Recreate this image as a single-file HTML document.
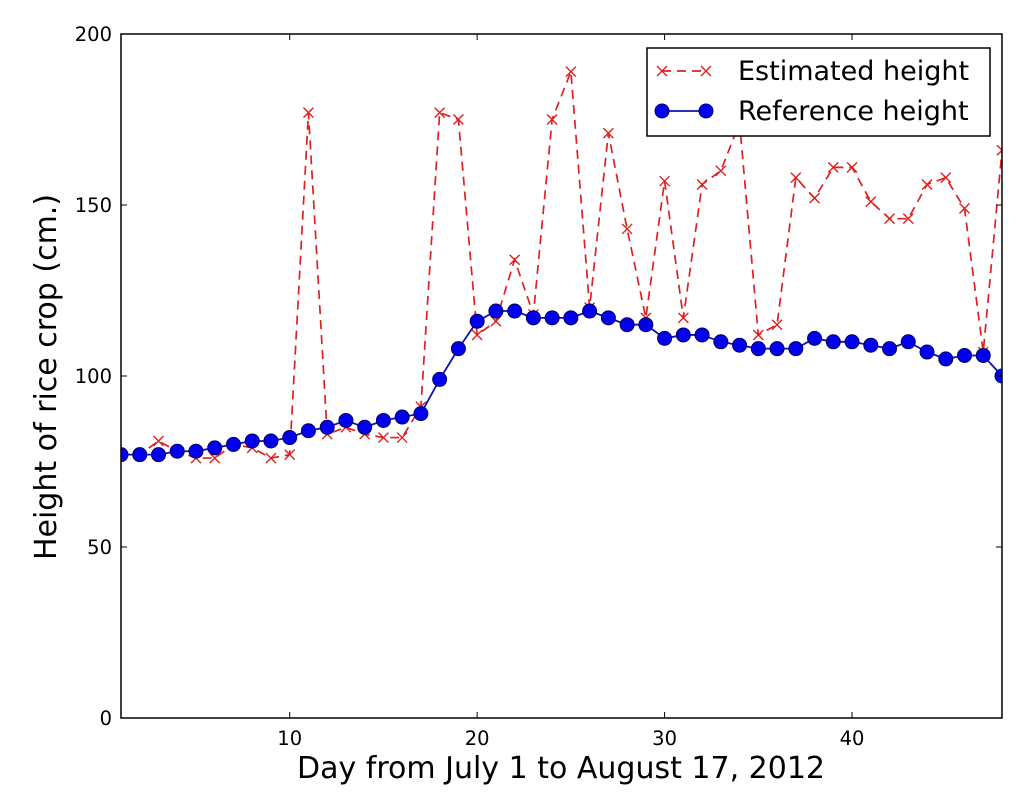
<!DOCTYPE html>
<html><head><meta charset="utf-8"><style>
body{margin:0;background:#fff;}
svg text{font-family:"DejaVu Sans","Liberation Sans",sans-serif;}
</style></head><body>
<svg id="chart" width="1024" height="800">
<g id="grid"></g>
<g id="series"></g>
<rect x="121" y="34" width="881" height="684" fill="none" stroke="#000" stroke-width="1.5"/>
<g id="ticks"></g>
<text x="561" y="778" font-size="30" text-anchor="middle">Day from July 1 to August 17, 2012</text>
<text transform="translate(56,377) rotate(-90)" font-size="30" text-anchor="middle">Height of rice crop (cm.)</text>
<g>
<rect x="647" y="48" width="343" height="88" fill="#fff" stroke="#000" stroke-width="1.5"/>
<g>
<line x1="662" y1="71" x2="706" y2="71" stroke="#e02020" stroke-width="1.7" stroke-dasharray="9,6"/>
<path d="M657,66 L667,76 M667,66 L657,76 M701,66 L711,76 M711,66 L701,76" stroke="#e02020" stroke-width="1.4"/>
<text x="738" y="80" font-size="27">Estimated height</text>
</g>
<g>
<line x1="662" y1="111" x2="706" y2="111" stroke="#1010b0" stroke-width="1.8"/>
<circle cx="662" cy="111" r="7" fill="#0000ee" stroke="#000060"/>
<circle cx="706" cy="111" r="7" fill="#0000ee" stroke="#000060"/>
<text x="738" y="120" font-size="27">Reference height</text>
</g>
</g>
</svg>
<script>
const days=[1,2,3,4,5,6,7,8,9,10,11,12,13,14,15,16,17,18,19,20,21,22,23,24,25,26,27,28,29,30,31,32,33,34,35,36,37,38,39,40,41,42,43,44,45,46,47,48];
const estimated=[77,77,81,78,76,76,80,79,76,77,177,83,85,83,82,82,91,177,175,112,116,134,118,175,189,120,171,143,117,157,117,156,160,174,112,115,158,152,161,161,151,146,146,156,158,149,107,166];
const reference=[77,77,77,78,78,79,80,81,81,82,84,85,87,85,87,88,89,99,108,116,119,119,117,117,117,119,117,115,115,111,112,112,110,109,108,108,108,111,110,110,109,108,110,107,105,106,106,100];
const xTicks=[10,20,30,40];
const yTicks=[0,50,100,150,200];
const NS="http://www.w3.org/2000/svg";
const X0=121,X1=1002,Y0=718,Y1=34;
function xs(d){return X0+(d-1)/(48-1)*(X1-X0);}
function ys(v){return Y0-v/200*(Y0-Y1);}
function mk(tag,attrs,parent){const e=document.createElementNS(NS,tag);for(const k in attrs)e.setAttribute(k,attrs[k]);parent.appendChild(e);return e;}
const ser=document.getElementById('series'),tk=document.getElementById('ticks');
const clip=mk('clipPath',{id:'clp'},ser);mk('rect',{x:X0,y:Y1,width:X1-X0,height:Y0-Y1},clip);
const g=mk('g',{'clip-path':'url(#clp)'},ser);
let pe=days.map((d,i)=>xs(d)+','+ys(estimated[i])).join(' ');
const le=mk('polyline',{points:pe,fill:'none',stroke:'#e02020','stroke-width':1.7,'stroke-dasharray':'9,6'},g);


days.forEach((d,i)=>{const x=xs(d),y=ys(estimated[i]);
const m=mk('path',{d:`M${x-5},${y-5}L${x+5},${y+5}M${x+5},${y-5}L${x-5},${y+5}`,stroke:'#e02020','stroke-width':1.4},g);

});
let pr=days.map((d,i)=>xs(d)+','+ys(reference[i])).join(' ');
const lr=mk('polyline',{points:pr,fill:'none',stroke:'#1010b0','stroke-width':1.8},g);


days.forEach((d,i)=>{const c=mk('circle',{cx:xs(d),cy:ys(reference[i]),r:7,fill:'#0000ee',stroke:'#000060'},g);

});
xTicks.forEach(t=>{const x=xs(t);
mk('line',{x1:x,y1:Y0,x2:x,y2:Y0-6,stroke:'#000'},tk);mk('line',{x1:x,y1:Y1,x2:x,y2:Y1+6,stroke:'#000'},tk);
const l=mk('text',{x:x,y:Y0+27,'font-size':19.5,'text-anchor':'middle'},tk);l.textContent=t;

});
yTicks.forEach(t=>{const y=ys(t);
mk('line',{x1:X0,y1:y,x2:X0+6,y2:y,stroke:'#000'},tk);mk('line',{x1:X1,y1:y,x2:X1-6,y2:y,stroke:'#000'},tk);
const l=mk('text',{x:X0-9,y:y+7,'font-size':19.5,'text-anchor':'end'},tk);l.textContent=t;

});
</script>
</body></html>
